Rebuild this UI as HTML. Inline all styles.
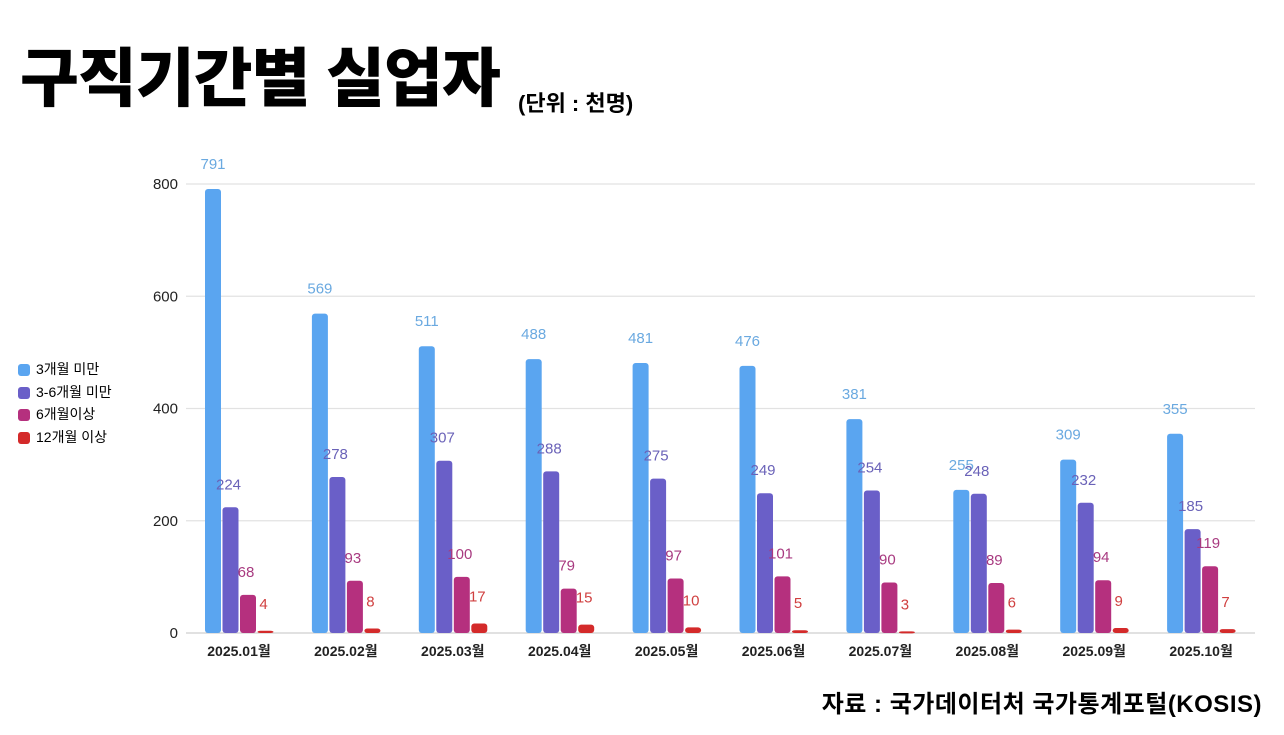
<!DOCTYPE html>
<html><head><meta charset="utf-8"><style>
body{margin:0;width:1284px;height:735px;background:#fff;overflow:hidden;font-family:"Liberation Sans","Noto Sans CJK KR",sans-serif;position:relative}
.t{position:absolute;white-space:nowrap}
</style></head><body>
<div class="t" style="left:20px;top:28px;font-size:64px;font-weight:900;letter-spacing:-1px">구직기간별 실업자</div>
<div class="t" style="left:518px;top:86px;font-size:22px;font-weight:700">(단위 : 천명)</div>
<div class="t" style="right:22px;top:684px;font-size:24px;font-weight:700;letter-spacing:0.5px">자료 : 국가데이터처 국가통계포털(KOSIS)</div>
<div style="position:absolute;left:18px;top:358px;font-size:14px;line-height:22.5px">
<div><span style="display:inline-block;width:12px;height:12px;border-radius:3px;background:#5aa5f0;vertical-align:-2px;margin-right:6px"></span>3개월 미만</div>
<div><span style="display:inline-block;width:12px;height:12px;border-radius:3px;background:#6a5fc8;vertical-align:-2px;margin-right:6px"></span>3-6개월 미만</div>
<div><span style="display:inline-block;width:12px;height:12px;border-radius:3px;background:#b5307e;vertical-align:-2px;margin-right:6px"></span>6개월이상</div>
<div><span style="display:inline-block;width:12px;height:12px;border-radius:3px;background:#d42a2a;vertical-align:-2px;margin-right:6px"></span>12개월 이상</div>
</div>
<svg id="c" width="1284" height="735" style="position:absolute;left:0;top:0"></svg>
<script>
const categories=["2025.01월","2025.02월","2025.03월","2025.04월","2025.05월","2025.06월","2025.07월","2025.08월","2025.09월","2025.10월"];
const under3=[791,569,511,488,481,476,381,255,309,355];
const m3to6=[224,278,307,288,275,249,254,248,232,185];
const over6=[68,93,100,79,97,101,90,89,94,119];
const over12=[4,8,17,15,10,5,3,6,9,7];
const yTicks=[0,200,400,600,800];
const series=[{d:under3,c:"#5aa5f0",lc:"#6aa9e0",n:"bar-under-3m"},{d:m3to6,c:"#6a5fc8",lc:"#6a62b8",n:"bar-3-6m"},{d:over6,c:"#b5307e",lc:"#a83a80",n:"bar-over-6m"},{d:over12,c:"#d42a2a",lc:"#d04040",n:"bar-over-12m"}];
const svg=document.getElementById('c');const NS="http://www.w3.org/2000/svg";
const y0=633,y800=184;const y=v=>y0-(v/800)*(y0-y800);
const gx=i=>205+i*106.9;
function mk(t,a,txt){const e=document.createElementNS(NS,t);for(const k in a)e.setAttribute(k,a[k]);if(txt!==undefined)e.textContent=txt;svg.appendChild(e);return e;}
yTicks.forEach(v=>{
const l=mk('line',{x1:186,x2:1255,y1:y(v),y2:y(v),stroke:v?"#e2e2e2":"#cfcfcf","stroke-width":1.2});


const t=mk('text',{x:178,y:y(v)+5,"text-anchor":"end","font-size":15,fill:"#222"},String(v));


});
categories.forEach((c,i)=>{
series.forEach((s,j)=>{
const x=gx(i)+j*17.5,h=y0-y(s.d[i]);
const r=mk('rect',{x:x,y:y(s.d[i]),width:16,height:Math.max(h,2),rx:3,fill:s.c});


const t=mk('text',{x:x+(j==0?8:6),y:y(s.d[i])-(j==0?20:j==3?22:18),"text-anchor":"middle","font-size":15,fill:s.lc},String(s.d[i]));


});
const t=mk('text',{x:gx(i)+34,y:656,"text-anchor":"middle","font-size":14,"font-weight":700,fill:"#222"},c);


});
</script>
</body></html>
